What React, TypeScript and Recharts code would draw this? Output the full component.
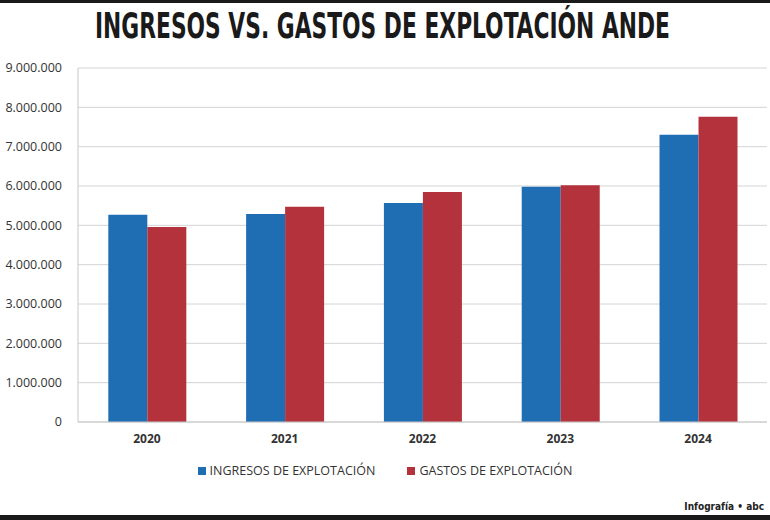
import React from "react";
import { BarChart, Bar, XAxis, YAxis, CartesianGrid } from "recharts";

const years = ["2020", "2021", "2022", "2023", "2024"];
const ingresos = [5270000, 5290000, 5570000, 5980000, 7300000];
const gastos = [4960000, 5470000, 5850000, 6020000, 7760000];
const yTicks = [0, 1000000, 2000000, 3000000, 4000000, 5000000, 6000000, 7000000, 8000000, 9000000];
const seriesNames = ["INGRESOS DE EXPLOTACIÓN", "GASTOS DE EXPLOTACIÓN"];

const data = years.map((y, i) => ({ year: y, ingresos: ingresos[i], gastos: gastos[i] }));

const fmt = (v: number) => v.toString().replace(/\B(?=(\d{3})+(?!\d))/g, ".");

const BLUE = "#1f6db3";
const RED = "#b3323b";

export default function App() {
  return (
    <div style={{ position: "absolute", left: 0, top: 0, width: 770, height: 520, background: "#fff", overflow: "hidden" }}>
      <div style={{ position: "absolute", left: 0, top: 0, width: 770, height: 3, background: "#1a1a1a" }} />
      <svg style={{ position: "absolute", left: 0, top: 0 }} width={770} height={60}>
        <g transform="scale(1,1.6)">
          <text
            x={95}
            y={23.8}
            textLength={575}
            lengthAdjust="spacingAndGlyphs"
            fontFamily="'DejaVu Sans Condensed', 'Liberation Sans Narrow', 'DejaVu Sans', sans-serif"
            fontWeight="bold"
            fontSize={22}
            fill="#1a1a1a"
          >
            INGRESOS VS. GASTOS DE EXPLOTACIÓN ANDE
          </text>
        </g>
      </svg>
      <div style={{ position: "absolute", left: 0, top: 0 }}>
        <BarChart
          width={770}
          height={520}
          data={data}
          margin={{ top: 68, right: 3, bottom: 68, left: 0 }}
          barCategoryGap="22%"
          barGap={0}
        >
          <CartesianGrid vertical={false} stroke="#d4d4d4" />
          <XAxis
            dataKey="year"
            axisLine={{ stroke: "#c8c8c8" }}
            tickLine={false}
            tick={{ fill: "#333", fontSize: 12, fontWeight: "bold", fontFamily: "'Open Sans', sans-serif" }}
            tickMargin={6}
          />
          <YAxis
            domain={[0, 9000000]}
            ticks={yTicks}
            tickFormatter={fmt}
            width={78}
            axisLine={{ stroke: "#c8c8c8" }}
            tickLine={false}
            tick={{ fill: "#333", fontSize: 12.5, fontFamily: "'Open Sans', sans-serif" }}
            tickMargin={10}
          />
          <Bar dataKey="ingresos" name={seriesNames[0]} fill={BLUE} isAnimationActive={false} />
          <Bar dataKey="gastos" name={seriesNames[1]} fill={RED} isAnimationActive={false} />
        </BarChart>
      </div>
      <div
        style={{
          position: "absolute",
          left: 0,
          top: 463,
          width: 770,
          display: "flex",
          justifyContent: "center",
          fontFamily: "'Open Sans', sans-serif",
          fontSize: 12.5,
          color: "#333",
          lineHeight: "16px",
        }}
      >
        <div style={{ display: "flex", alignItems: "center", marginRight: 32 }}>
          <span style={{ width: 8, height: 8, background: BLUE, marginRight: 4, display: "inline-block" }} />
          {seriesNames[0]}
        </div>
        <div style={{ display: "flex", alignItems: "center" }}>
          <span style={{ width: 8, height: 8, background: RED, marginRight: 4, display: "inline-block" }} />
          {seriesNames[1]}
        </div>
      </div>
      <div
        style={{
          position: "absolute",
          right: 6,
          top: 501,
          fontFamily: "'DejaVu Sans Condensed', 'Liberation Sans Narrow', sans-serif",
          fontSize: 10,
          fontWeight: "bold",
          color: "#222",
        }}
      >
        Infografía • abc
      </div>
      <div style={{ position: "absolute", left: 0, top: 515, width: 770, height: 5, background: "#1a1a1a" }} />
    </div>
  );
}
